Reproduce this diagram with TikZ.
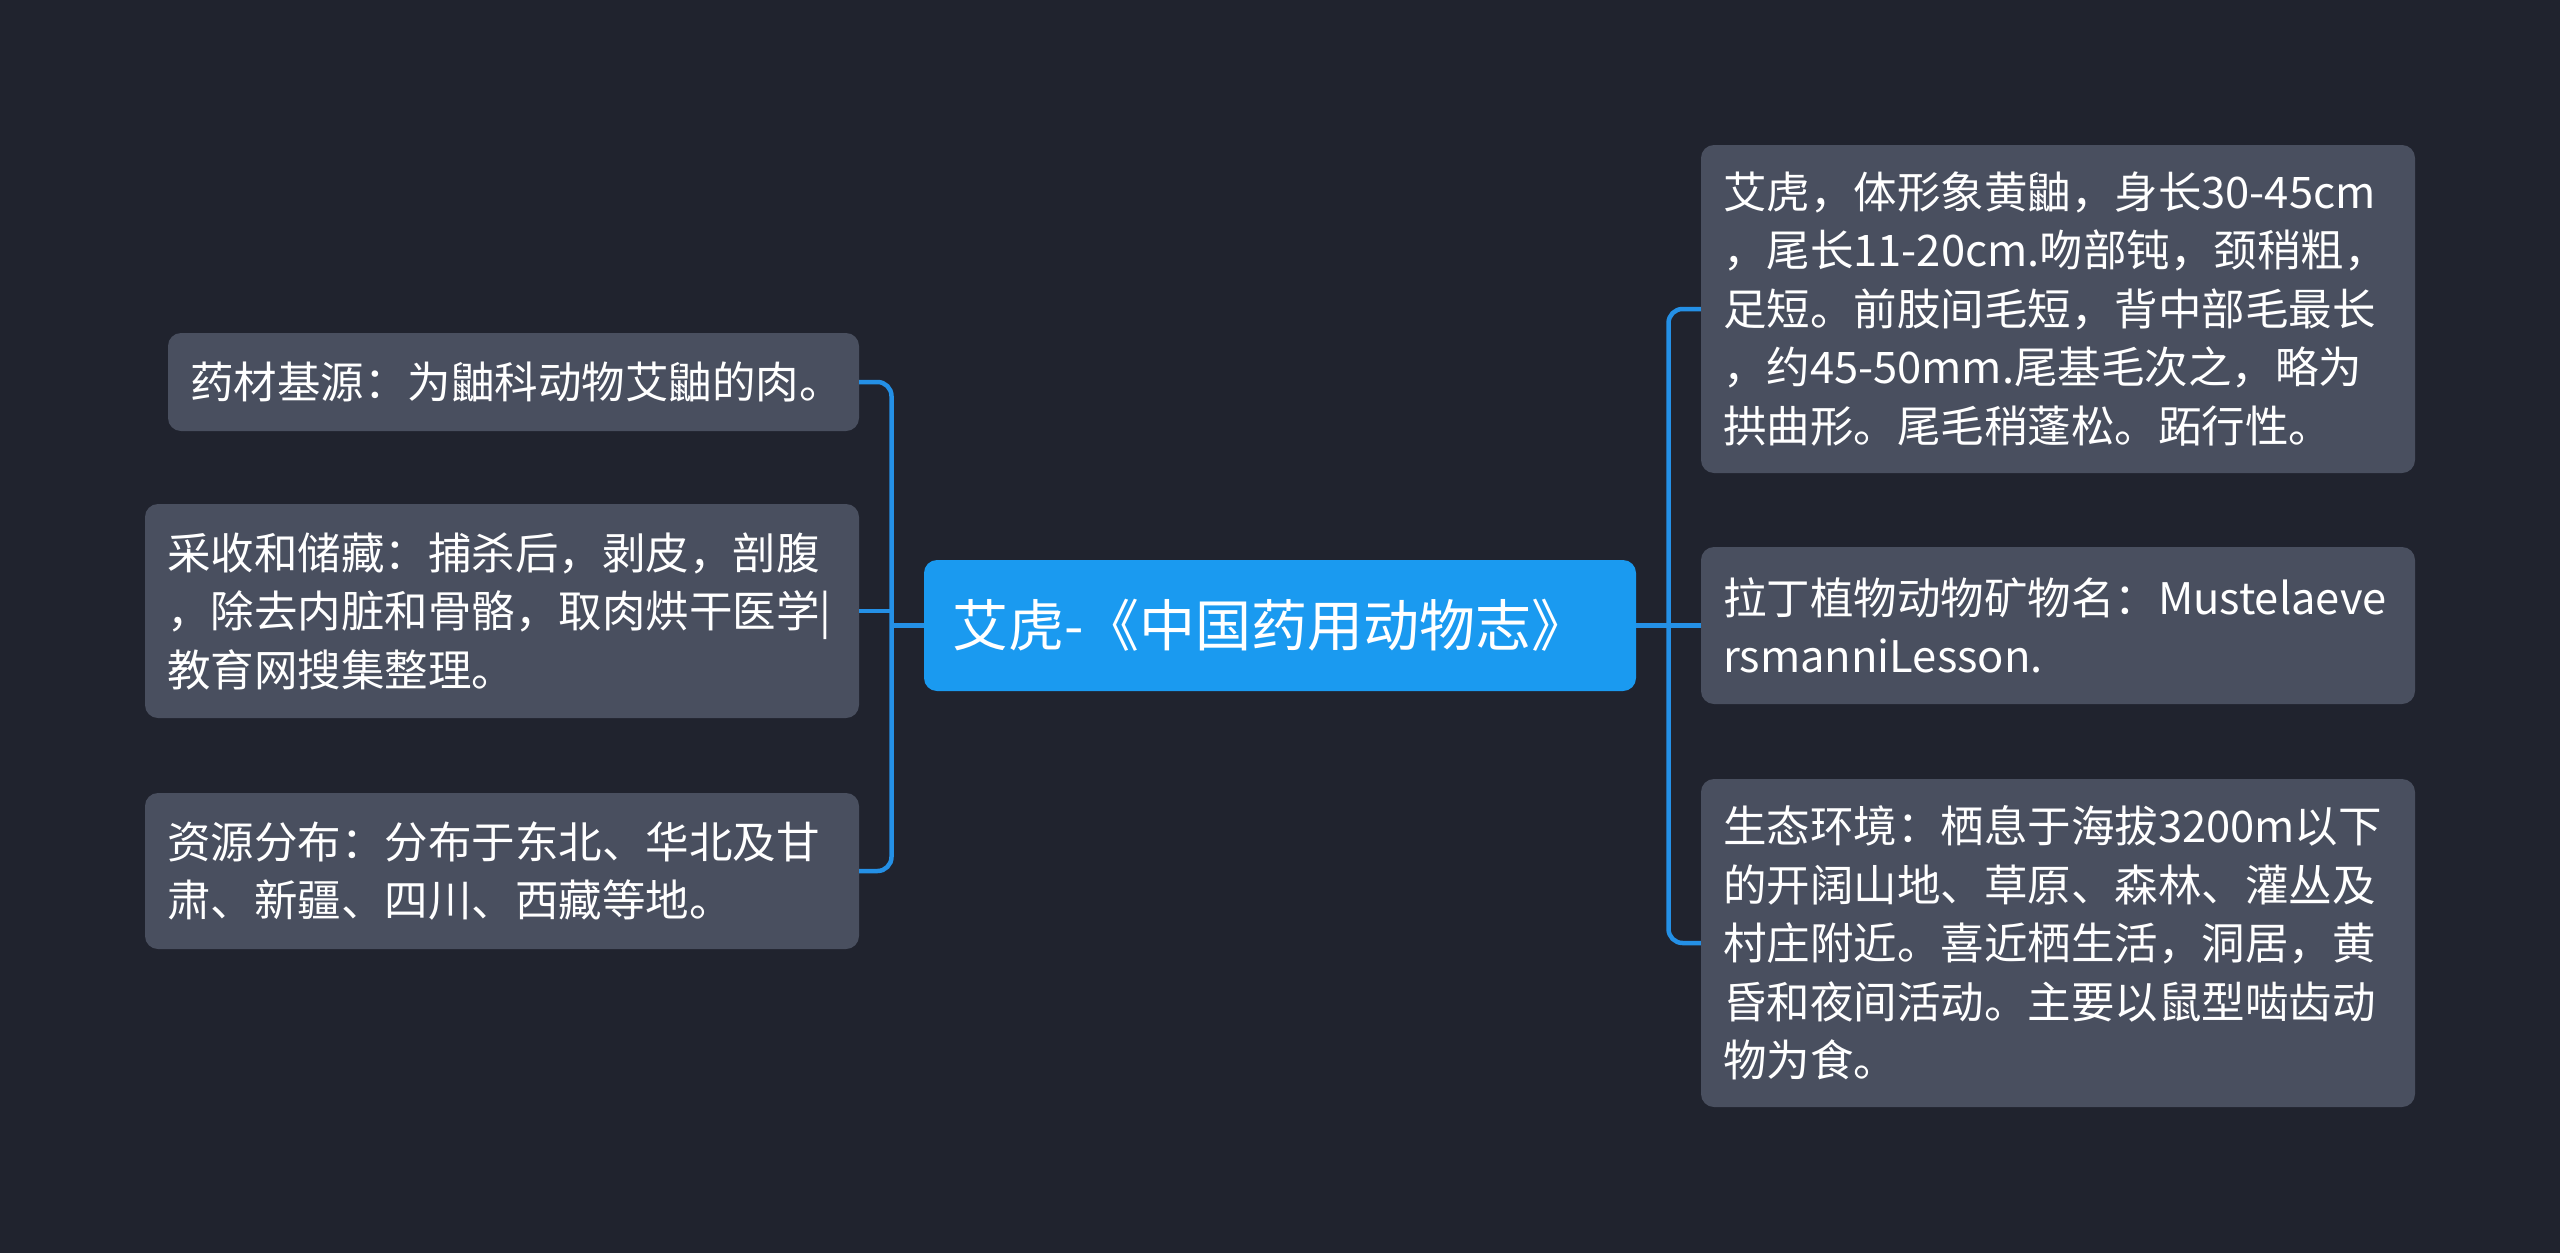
\documentclass[tikz,border=0pt]{standalone}
\usepackage{fontspec}
\setmainfont{Noto Sans CJK SC}
\usepackage{xcolor}
\definecolor{MapBack}{RGB}{32,35,46}
\definecolor{MapLeaf}{RGB}{73,79,95}
\definecolor{MapRoot}{RGB}{26,154,240}
\definecolor{MapLine}{RGB}{36,144,230}
\usepackage{tikz}
\usetikzlibrary{positioning, calc}

\begin{document}
\begin{tikzpicture}[x=1pt, y=-1pt,
    leaf/.style={fill=MapLeaf, rounded corners=13pt, text=white, inner xsep=22pt, inner ysep=0pt,
        align=left, text width=670pt, font=\fontsize{43.5pt}{58.5pt}\selectfont},
    root/.style={fill=MapRoot, rounded corners=13pt, text=white, inner xsep=28pt, inner ysep=0pt,
        align=left, text width=656pt, minimum height=131pt, font=\fontsize{56pt}{62pt}\selectfont},
    link/.style={draw=MapLine, line width=4.5pt, rounded corners=14pt}]
    \fill[MapBack] (0,0) rectangle (2560,1253);
    \useasboundingbox (0,0) rectangle (2560,1253);
    % centre
    \node[root] (ctr) at (1280,625.5) {艾虎-《中国药用动物志》};
    % left side
    \node[leaf, text width=647pt, minimum height=98pt] (src) at (513.5,382) {药材基源：为鼬科动物艾鼬的肉。};
    \node[leaf, minimum height=214pt] (harvest) at (502,611) {采收和储藏：捕杀后，剥皮，剖腹\\，除去内脏和骨骼，取肉烘干医学|\\教育网搜集整理。};
    \node[leaf, minimum height=156pt] (range) at (502,871) {资源分布：分布于东北、华北及甘\\肃、新疆、四川、西藏等地。};
    % right side
    \node[leaf, minimum height=328pt] (shape) at (2058,309) {艾虎，体形象黄鼬，身长30-45cm\\，尾长11-20cm.吻部钝，颈稍粗，\\足短。前肢间毛短，背中部毛最长\\，约45-50mm.尾基毛次之，略为\\拱曲形。尾毛稍蓬松。跖行性。};
    \node[leaf, minimum height=157pt] (latin) at (2058,625.5) {拉丁植物动物矿物名：Mustelaeve\\rsmanniLesson.};
    \node[leaf, minimum height=328pt] (habitat) at (2058,943) {生态环境：栖息于海拔3200m以下\\的开阔山地、草原、森林、灌丛及\\村庄附近。喜近栖生活，洞居，黄\\昏和夜间活动。主要以鼠型啮齿动\\物为食。};
    % connectors
    \coordinate (ljoin) at (891.5,625.5);
    \coordinate (rjoin) at (1668.5,625.5);
    \draw[link] (ctr.west) -- (ljoin);
    \draw[link] (src.east) -| (ljoin) |- (range.east);
    \draw[link] (harvest.east) -- (harvest.east -| ljoin);
    \draw[link] (ctr.east) -- (rjoin);
    \draw[link] (shape.west) -| (rjoin) |- (habitat.west);
    \draw[link] (rjoin) -- (latin.west);
\end{tikzpicture}
\end{document}
